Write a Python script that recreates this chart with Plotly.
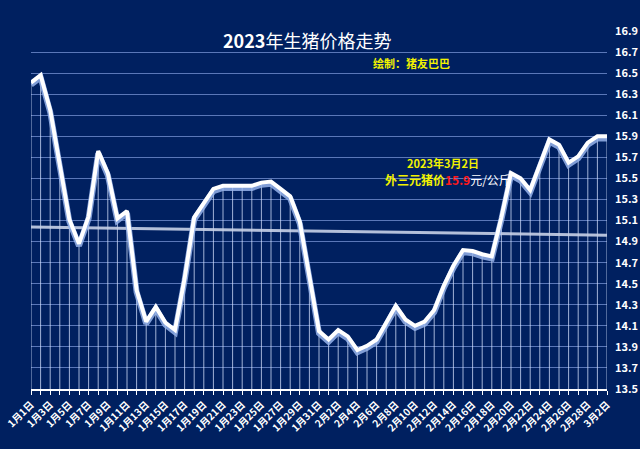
import numpy as np
import plotly.graph_objects as go

# ---- data ----
dates = [f"1月{d}日" for d in range(1, 32)] + [f"2月{d}日" for d in range(1, 29)] + ["3月1日", "3月2日"]
prices = [16.41, 16.48, 16.15, 15.61, 15.11, 14.88, 15.14, 15.76, 15.55, 15.12,
          15.19, 14.44, 14.14, 14.28, 14.13, 14.06, 14.55, 15.13, 15.27, 15.40,
          15.43, 15.43, 15.43, 15.43, 15.46, 15.47, 15.40, 15.33, 15.09, 14.57,
          14.05, 13.97, 14.06, 14.00, 13.87, 13.91, 13.97, 14.13, 14.29, 14.16,
          14.10, 14.14, 14.25, 14.48, 14.67, 14.82, 14.81, 14.78, 14.76, 15.13,
          15.55, 15.50, 15.39, 15.63, 15.87, 15.82, 15.65, 15.71, 15.84, 15.90,
          15.90]
y_ticks = [13.5, 13.7, 13.9, 14.1, 14.3, 14.5, 14.7, 14.9, 15.1, 15.3, 15.5,
           15.7, 15.9, 16.1, 16.3, 16.5, 16.7, 16.9]
y_min, y_max = 13.5, 16.9

BG = "#002060"
FONT = "Noto Sans CJK SC"

# drop lines from each point to the axis
dx, dy = [], []
for d, p in zip(dates, prices):
    dx += [d, d, None]
    dy += [y_min, p, None]

# linear trend
idx = np.arange(len(prices))
k, b = np.polyfit(idx, prices, 1)
trend = list(k * idx + b)

fig = go.Figure()
fig.add_trace(go.Scatter(x=dx, y=dy, mode="lines",
                         line=dict(color="rgba(215,228,255,0.75)", width=1),
                         hoverinfo="skip", showlegend=False))
fig.add_trace(go.Scatter(x=dates, y=trend, mode="lines",
                         line=dict(color="rgba(200,210,232,0.9)", width=3),
                         hoverinfo="skip", showlegend=False))
fig.add_trace(go.Scatter(x=dates, y=[p - 0.02 for p in prices], mode="lines",
                         line=dict(color="rgba(150,180,235,0.85)", width=6),
                         hoverinfo="skip", showlegend=False))
fig.add_trace(go.Scatter(x=dates, y=prices, mode="lines",
                         line=dict(color="white", width=4),
                         showlegend=False))

ticktext = [f"<b>{d}</b>" if i % 2 == 0 else "" for i, d in enumerate(dates)]

fig.update_layout(
    width=640, height=449,
    paper_bgcolor=BG, plot_bgcolor=BG,
    margin=dict(l=31, r=33, t=31, b=60),
    font=dict(family=FONT, color="white"),
    xaxis=dict(type="category", range=[0, len(dates) - 1], automargin=False,
               tickmode="array", tickvals=dates, ticktext=ticktext,
               tickangle=-45, tickfont=dict(size=10, color="white"),
               ticks="outside", ticklen=4, tickcolor="white", tickwidth=1,
               showline=True, linecolor="white", linewidth=2,
               showgrid=False, zeroline=False),
    yaxis=dict(range=[y_min, y_max], side="right", automargin=False,
               tickmode="array", tickvals=y_ticks,
               ticktext=[f"<b>{v:.1f}</b>" for v in y_ticks],
               tickfont=dict(size=11, color="white"),
               ticklabelstandoff=7,
               showgrid=True, gridcolor="#5a77b8", gridwidth=1,
               zeroline=False, showline=False),
    annotations=[
        dict(text="<b>2023</b>年生猪价格走势", xref="paper", yref="paper",
             x=0.479, y=0.975, xanchor="center", yanchor="middle", showarrow=False,
             font=dict(size=18, color="white", family=FONT)),
        dict(text="<b>绘制：猪友巴巴</b>", xref="paper", yref="paper",
             x=0.66, y=0.912, xanchor="center", yanchor="middle", showarrow=False,
             font=dict(size=11, color="#f2f200", family=FONT)),
        dict(text="<b>2023年3月2日</b>", xref="paper", yref="paper",
             x=0.715, y=0.631, xanchor="center", yanchor="middle", showarrow=False,
             font=dict(size=11, color="#f2f200", family=FONT)),
        dict(text="<span style='color:#f2f200'><b>外三元猪价</b></span>"
                  "<span style='color:#ff1a1a'><b>15.9</b></span>"
                  "<span style='color:white'>元/公斤</span>",
             xref="paper", yref="paper",
             x=0.724, y=0.584, xanchor="center", yanchor="middle", showarrow=False,
             font=dict(size=12, family=FONT)),
    ],
)

fig.write_html("out.html")
